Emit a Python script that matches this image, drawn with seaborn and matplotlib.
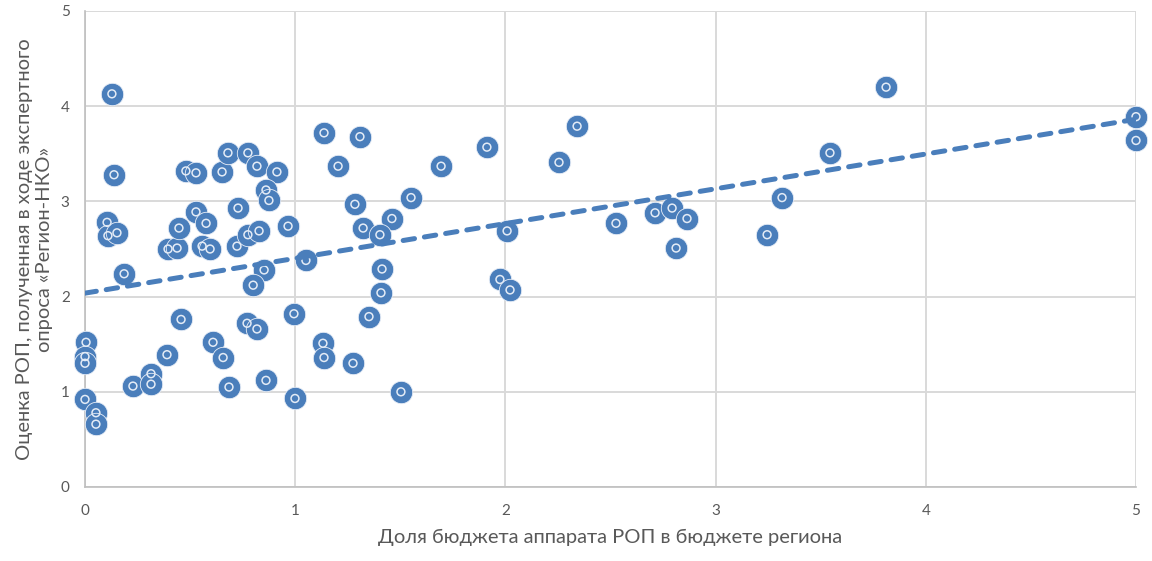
import numpy as np
import pandas as pd
import matplotlib
matplotlib.use("Agg")
import matplotlib.pyplot as plt
import seaborn as sns

# Data
budget_share = [
    0.128, 0.138, 0.105, 0.109, 0.152, 0.186, 0.005, 0.0, 0.0, 0.0,
    0.052, 0.052, 0.228, 0.314, 0.314, 0.390, 0.457, 0.395, 0.438, 0.447,
    0.480, 0.528, 0.528, 0.576, 0.557, 0.595, 0.652, 0.680, 0.775, 0.818,
    0.913, 0.861, 0.875, 0.728, 0.723, 0.775, 0.828, 0.966, 0.852, 0.800,
    1.051, 0.609, 0.657, 0.685, 0.771, 0.818, 0.861, 0.994, 0.999, 1.137,
    1.308, 1.204, 1.551, 1.284, 1.460, 1.323, 1.403, 1.413, 1.408, 1.351,
    1.132, 1.137, 1.275, 1.503, 2.341, 2.255, 1.912, 1.694, 2.008, 1.974,
    2.022, 2.526, 2.712, 2.793, 2.864, 2.812, 3.811, 3.544, 3.316, 3.245,
    5.0, 5.0,
]
rop_score = [
    4.13, 3.28, 2.78, 2.64, 2.67, 2.24, 1.52, 1.37, 1.30, 0.92,
    0.78, 0.66, 1.06, 1.19, 1.08, 1.39, 1.76, 2.50, 2.51, 2.72,
    3.32, 3.30, 2.89, 2.77, 2.53, 2.50, 3.31, 3.51, 3.51, 3.37,
    3.31, 3.12, 3.01, 2.93, 2.53, 2.65, 2.69, 2.74, 2.28, 2.12,
    2.38, 1.52, 1.36, 1.05, 1.72, 1.66, 1.12, 1.82, 0.93, 3.72,
    3.68, 3.37, 3.04, 2.97, 2.82, 2.72, 2.65, 2.29, 2.04, 1.79,
    1.51, 1.36, 1.30, 1.00, 3.79, 3.41, 3.57, 3.37, 2.69, 2.18,
    2.07, 2.77, 2.88, 2.93, 2.82, 2.51, 4.20, 3.51, 3.04, 2.65,
    3.89, 3.64,
]
x_ticks = [0, 1, 2, 3, 4, 5]
y_ticks = [0, 1, 2, 3, 4, 5]
x_label = "Доля бюджета аппарата РОП в бюджете региона"
y_label = "Оценка РОП, полученная в ходе экспертного\nопроса «Регион-НКО»"

df = pd.DataFrame({"x": budget_share, "y": rop_score})

sns.set_theme(style="white")
plt.rcParams["font.family"] = ["Lato", "DejaVu Sans"]

blue = "#4a7ebb"
gray_text = "#595959"
grid_col = "#d9d9d9"

fig = plt.figure(figsize=(11.52, 5.61), dpi=100)
ax = fig.add_axes([85 / 1152, 1 - 487 / 561, (1136 - 85) / 1152, (487 - 11) / 561])

sns.scatterplot(data=df, x="x", y="y", ax=ax, s=260, color=blue,
                edgecolor="#e8eef7", linewidth=0.6, zorder=3, legend=False)
sns.scatterplot(data=df, x="x", y="y", ax=ax, s=32, facecolor="none",
                edgecolor="#e3ebf6", linewidth=1.1, zorder=4, legend=False)
for coll in ax.collections:
    coll.set_clip_on(False)

sns.regplot(data=df, x="x", y="y", ax=ax, scatter=False, ci=None,
            line_kws=dict(color=blue, lw=3.6, dashes=(2.3, 2.0),
                          dash_capstyle="round", zorder=5))

ax.set_xlim(0, 5)
ax.set_ylim(0, 5)
ax.set_xticks(x_ticks)
ax.set_yticks(y_ticks)
ax.grid(True, color=grid_col, linewidth=1.4)
ax.set_axisbelow(True)
for side in ["top", "right"]:
    ax.spines[side].set_visible(False)
for side in ["left", "bottom"]:
    ax.spines[side].set_color("#bfbfbf")
    ax.spines[side].set_linewidth(1.2)
ax.tick_params(axis="both", length=0, labelsize=11, labelcolor=gray_text)
ax.tick_params(axis="x", pad=12)
ax.tick_params(axis="y", pad=11)
ax.set_xlabel(x_label, fontsize=14.5, color=gray_text, labelpad=8)
ax.set_ylabel(y_label, fontsize=14.5, color=gray_text, labelpad=6, linespacing=1.2)

fig.savefig("out.png", dpi=100)
